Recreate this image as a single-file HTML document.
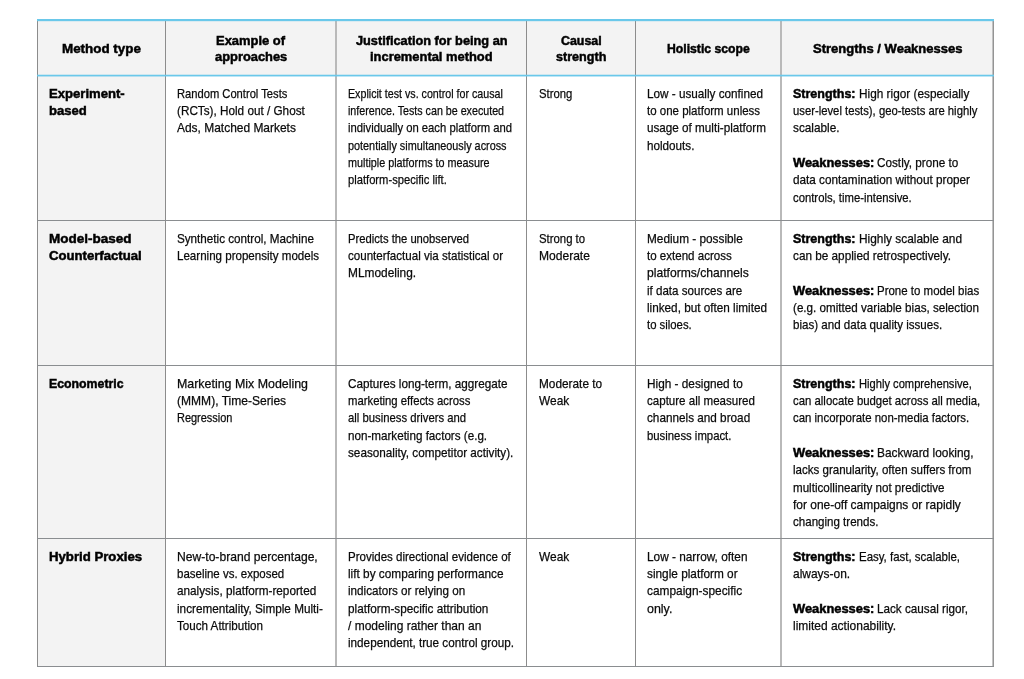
<!DOCTYPE html>
<html lang="en">
<head>
<meta charset="utf-8">
<title>Incrementality methods comparison</title>
<style>
html,body{margin:0;padding:0;background:#fff;}
body{width:1024px;height:679px;position:relative;overflow:hidden;font-family:"Liberation Sans",sans-serif;}
.bg{position:absolute;background:#f3f3f3;}
.v{position:absolute;width:1px;background:#8c8c8c;}
.v.soft{width:2px;background:#b9b9b9;}
.h{position:absolute;height:1px;background:#8a8d90;}
.hb{position:absolute;background:#6ac8ea;}
.c{position:absolute;}
.t,.b{display:block;position:absolute;white-space:nowrap;line-height:17.3px;height:17.3px;transform-origin:0 0;}
.t{font-size:13.0px;color:#0a0a0a;-webkit-text-stroke:0.25px #0a0a0a;}
.b{font-size:13.0px;font-weight:bold;color:#000;-webkit-text-stroke:0.5px #000;}
</style>
</head>
<body>

<div class="bg" style="left:37px;top:19px;width:957px;height:56px"></div>
<div class="bg" style="left:37px;top:75px;width:128px;height:592px"></div>
<div class="v" style="left:37px;top:20px;height:647px"></div>
<div class="v" style="left:165px;top:20px;height:647px"></div>
<div class="v soft" style="left:335px;top:20px;height:647px"></div>
<div class="v" style="left:526px;top:20px;height:647px"></div>
<div class="v" style="left:635px;top:20px;height:647px"></div>
<div class="v soft" style="left:780px;top:20px;height:647px"></div>
<div class="v" style="left:992px;top:20px;height:647px;background:#c2c2c2"></div>
<div class="v" style="left:993px;top:20px;height:647px;background:#949494"></div>
<div class="h" style="left:37px;top:220px;width:957px"></div>
<div class="h" style="left:37px;top:365px;width:957px"></div>
<div class="h" style="left:37px;top:538px;width:957px"></div>
<div class="h" style="left:37px;top:666px;width:957px"></div>
<div class="hb" style="left:37px;top:19px;width:957px;height:2px"></div>
<div class="hb" style="left:37px;top:74px;width:957px;height:1px;opacity:0.28"></div>
<div class="hb" style="left:37px;top:75px;width:957px;height:1px;opacity:1"></div>
<div class="hb" style="left:37px;top:76px;width:957px;height:1px;opacity:0.45"></div>
<div class="hb" style="left:37px;top:21px;width:957px;height:1px;opacity:.18"></div>
<div class="tbl" role="table" aria-label="Incrementality measurement methods">
<div role="row">
<div class="c" role="columnheader" style="left:37px;top:19px;width:128px;height:56px">
<b class="b" style="left:25.00px;top:21.05px;transform:scaleX(1.0304)">Method type</b>
</div>
<div class="c" role="columnheader" style="left:165px;top:19px;width:171px;height:56px">
<b class="b" style="left:51.02px;top:12.85px;transform:scaleX(0.9950)">Example of</b>
<b class="b" style="left:49.98px;top:28.85px;transform:scaleX(0.9902)">approaches</b>
</div>
<div class="c" role="columnheader" style="left:336px;top:19px;width:190px;height:56px">
<b class="b" style="left:19.54px;top:12.85px;transform:scaleX(0.9802)">Justification for being an</b>
<b class="b" style="left:33.52px;top:28.85px;transform:scaleX(0.9928)">incremental method</b>
</div>
<div class="c" role="columnheader" style="left:526px;top:19px;width:109px;height:56px">
<b class="b" style="left:35.00px;top:12.85px;transform:scaleX(0.9531)">Causal</b>
<b class="b" style="left:30.48px;top:28.85px;transform:scaleX(0.9687)">strength</b>
</div>
<div class="c" role="columnheader" style="left:635px;top:19px;width:146px;height:56px">
<b class="b" style="left:32.48px;top:21.05px;transform:scaleX(0.9381)">Holistic scope</b>
</div>
<div class="c" role="columnheader" style="left:781px;top:19px;width:212px;height:56px">
<b class="b" style="left:31.52px;top:21.05px;transform:scaleX(1.0012)">Strengths / Weaknesses</b>
</div>
</div>
<div role="row">
<div class="c" role="rowheader" style="left:37px;top:75px;width:128px;height:145px">
<b class="b" style="left:11.70px;top:9.85px;transform:scaleX(1.0075)">Experiment-</b>
<b class="b" style="left:11.70px;top:27.15px;transform:scaleX(1.0053)">based</b>
</div>
<div class="c" role="cell" style="left:165px;top:75px;width:171px;height:145px">
<span class="t" style="left:11.70px;top:9.85px;transform:scaleX(0.8594)">Random Control Tests</span>
<span class="t" style="left:11.70px;top:27.15px;transform:scaleX(0.9024)">(RCTs), Hold out / Ghost</span>
<span class="t" style="left:11.70px;top:44.45px;transform:scaleX(0.9192)">Ads, Matched Markets</span>
</div>
<div class="c" role="cell" style="left:336px;top:75px;width:190px;height:145px">
<span class="t" style="left:11.70px;top:9.85px;transform:scaleX(0.8214)">Explicit test vs. control for causal</span>
<span class="t" style="left:11.70px;top:27.15px;transform:scaleX(0.8221)">inference. Tests can be executed</span>
<span class="t" style="left:11.70px;top:44.45px;transform:scaleX(0.8659)">individually on each platform and</span>
<span class="t" style="left:11.70px;top:61.75px;transform:scaleX(0.8343)">potentially simultaneously across</span>
<span class="t" style="left:11.70px;top:79.05px;transform:scaleX(0.8303)">multiple platforms to measure</span>
<span class="t" style="left:11.70px;top:96.35px;transform:scaleX(0.8605)">platform-specific lift.</span>
</div>
<div class="c" role="cell" style="left:526px;top:75px;width:109px;height:145px">
<span class="t" style="left:12.50px;top:9.85px;transform:scaleX(0.8692)">Strong</span>
</div>
<div class="c" role="cell" style="left:635px;top:75px;width:146px;height:145px">
<span class="t" style="left:11.90px;top:9.85px;transform:scaleX(0.9022)">Low - usually confined</span>
<span class="t" style="left:11.90px;top:27.15px;transform:scaleX(0.8842)">to one platform unless</span>
<span class="t" style="left:11.90px;top:44.45px;transform:scaleX(0.8993)">usage of multi-platform</span>
<span class="t" style="left:11.90px;top:61.75px;transform:scaleX(0.8980)">holdouts.</span>
</div>
<div class="c" role="cell" style="left:781px;top:75px;width:212px;height:145px">
<b class="b" style="left:11.60px;top:9.85px;transform:scaleX(0.9619)">Strengths:</b>
<span class="t" style="left:77.50px;top:9.85px;transform:scaleX(0.9094)">High rigor (especially</span>
<span class="t" style="left:11.60px;top:27.15px;transform:scaleX(0.8677)">user-level tests), geo-tests are highly</span>
<span class="t" style="left:11.60px;top:44.45px;transform:scaleX(0.9061)">scalable.</span>
<b class="b" style="left:11.60px;top:79.05px;transform:scaleX(0.9908)">Weaknesses:</b>
<span class="t" style="left:96.20px;top:79.05px;transform:scaleX(0.9027)">Costly, prone to</span>
<span class="t" style="left:11.60px;top:96.35px;transform:scaleX(0.9033)">data contamination without proper</span>
<span class="t" style="left:11.60px;top:113.65px;transform:scaleX(0.8695)">controls, time-intensive.</span>
</div>
</div>
<div role="row">
<div class="c" role="rowheader" style="left:37px;top:220px;width:128px;height:145px">
<b class="b" style="left:11.70px;top:9.85px;transform:scaleX(1.0383)">Model-based</b>
<b class="b" style="left:11.70px;top:27.15px;transform:scaleX(1.0104)">Counterfactual</b>
</div>
<div class="c" role="cell" style="left:165px;top:220px;width:171px;height:145px">
<span class="t" style="left:11.70px;top:9.85px;transform:scaleX(0.8978)">Synthetic control, Machine</span>
<span class="t" style="left:11.70px;top:27.15px;transform:scaleX(0.8892)">Learning propensity models</span>
</div>
<div class="c" role="cell" style="left:336px;top:220px;width:190px;height:145px">
<span class="t" style="left:11.70px;top:9.85px;transform:scaleX(0.8633)">Predicts the unobserved</span>
<span class="t" style="left:11.70px;top:27.15px;transform:scaleX(0.8910)">counterfactual via statistical or</span>
<span class="t" style="left:11.70px;top:44.45px;transform:scaleX(0.9145)">MLmodeling.</span>
</div>
<div class="c" role="cell" style="left:526px;top:220px;width:109px;height:145px">
<span class="t" style="left:12.50px;top:9.85px;transform:scaleX(0.8738)">Strong to</span>
<span class="t" style="left:12.50px;top:27.15px;transform:scaleX(0.9273)">Moderate</span>
</div>
<div class="c" role="cell" style="left:635px;top:220px;width:146px;height:145px">
<span class="t" style="left:11.90px;top:9.85px;transform:scaleX(0.9078)">Medium - possible</span>
<span class="t" style="left:11.90px;top:27.15px;transform:scaleX(0.8881)">to extend across</span>
<span class="t" style="left:11.90px;top:44.45px;transform:scaleX(0.9321)">platforms/channels</span>
<span class="t" style="left:11.90px;top:61.75px;transform:scaleX(0.8900)">if data sources are</span>
<span class="t" style="left:11.90px;top:79.05px;transform:scaleX(0.9021)">linked, but often limited</span>
<span class="t" style="left:11.90px;top:96.35px;transform:scaleX(0.8713)">to siloes.</span>
</div>
<div class="c" role="cell" style="left:781px;top:220px;width:212px;height:145px">
<b class="b" style="left:11.60px;top:9.85px;transform:scaleX(0.9619)">Strengths:</b>
<span class="t" style="left:77.50px;top:9.85px;transform:scaleX(0.9140)">Highly scalable and</span>
<span class="t" style="left:11.60px;top:27.15px;transform:scaleX(0.9047)">can be applied retrospectively.</span>
<b class="b" style="left:11.60px;top:61.75px;transform:scaleX(0.9908)">Weaknesses:</b>
<span class="t" style="left:96.20px;top:61.75px;transform:scaleX(0.8833)">Prone to model bias</span>
<span class="t" style="left:11.60px;top:79.05px;transform:scaleX(0.8967)">(e.g. omitted variable bias, selection</span>
<span class="t" style="left:11.60px;top:96.35px;transform:scaleX(0.8899)">bias) and data quality issues.</span>
</div>
</div>
<div role="row">
<div class="c" role="rowheader" style="left:37px;top:365px;width:128px;height:173px">
<b class="b" style="left:11.70px;top:9.85px;transform:scaleX(0.9467)">Econometric</b>
</div>
<div class="c" role="cell" style="left:165px;top:365px;width:171px;height:173px">
<span class="t" style="left:11.70px;top:9.85px;transform:scaleX(0.9544)">Marketing Mix Modeling</span>
<span class="t" style="left:11.70px;top:27.15px;transform:scaleX(0.9271)">(MMM), Time-Series</span>
<span class="t" style="left:11.70px;top:44.45px;transform:scaleX(0.8431)">Regression</span>
</div>
<div class="c" role="cell" style="left:336px;top:365px;width:190px;height:173px">
<span class="t" style="left:11.70px;top:9.85px;transform:scaleX(0.9009)">Captures long-term, aggregate</span>
<span class="t" style="left:11.70px;top:27.15px;transform:scaleX(0.8700)">marketing effects across</span>
<span class="t" style="left:11.70px;top:44.45px;transform:scaleX(0.8694)">all business drivers and</span>
<span class="t" style="left:11.70px;top:61.75px;transform:scaleX(0.8954)">non-marketing factors (e.g.</span>
<span class="t" style="left:11.70px;top:79.05px;transform:scaleX(0.9022)">seasonality, competitor activity).</span>
</div>
<div class="c" role="cell" style="left:526px;top:365px;width:109px;height:173px">
<span class="t" style="left:12.50px;top:9.85px;transform:scaleX(0.9099)">Moderate to</span>
<span class="t" style="left:12.50px;top:27.15px;transform:scaleX(0.9154)">Weak</span>
</div>
<div class="c" role="cell" style="left:635px;top:365px;width:146px;height:173px">
<span class="t" style="left:11.90px;top:9.85px;transform:scaleX(0.9078)">High - designed to</span>
<span class="t" style="left:11.90px;top:27.15px;transform:scaleX(0.8886)">capture all measured</span>
<span class="t" style="left:11.90px;top:44.45px;transform:scaleX(0.9033)">channels and broad</span>
<span class="t" style="left:11.90px;top:61.75px;transform:scaleX(0.8716)">business impact.</span>
</div>
<div class="c" role="cell" style="left:781px;top:365px;width:212px;height:173px">
<b class="b" style="left:11.60px;top:9.85px;transform:scaleX(0.9619)">Strengths:</b>
<span class="t" style="left:77.50px;top:9.85px;transform:scaleX(0.8574)">Highly comprehensive,</span>
<span class="t" style="left:11.60px;top:27.15px;transform:scaleX(0.8752)">can allocate budget across all media,</span>
<span class="t" style="left:11.60px;top:44.45px;transform:scaleX(0.8771)">can incorporate non-media factors.</span>
<b class="b" style="left:11.60px;top:79.05px;transform:scaleX(0.9908)">Weaknesses:</b>
<span class="t" style="left:96.20px;top:79.05px;transform:scaleX(0.9148)">Backward looking,</span>
<span class="t" style="left:11.60px;top:96.35px;transform:scaleX(0.8873)">lacks granularity, often suffers from</span>
<span class="t" style="left:11.60px;top:113.65px;transform:scaleX(0.8923)">multicollinearity not predictive</span>
<span class="t" style="left:11.60px;top:130.95px;transform:scaleX(0.9191)">for one-off campaigns or rapidly</span>
<span class="t" style="left:11.60px;top:148.25px;transform:scaleX(0.8886)">changing trends.</span>
</div>
</div>
<div role="row">
<div class="c" role="rowheader" style="left:37px;top:538px;width:128px;height:128px">
<b class="b" style="left:11.70px;top:9.85px;transform:scaleX(1.0146)">Hybrid Proxies</b>
</div>
<div class="c" role="cell" style="left:165px;top:538px;width:171px;height:128px">
<span class="t" style="left:11.70px;top:9.85px;transform:scaleX(0.9318)">New-to-brand percentage,</span>
<span class="t" style="left:11.70px;top:27.15px;transform:scaleX(0.8826)">baseline vs. exposed</span>
<span class="t" style="left:11.70px;top:44.45px;transform:scaleX(0.9046)">analysis, platform-reported</span>
<span class="t" style="left:11.70px;top:61.75px;transform:scaleX(0.9026)">incrementality, Simple Multi-</span>
<span class="t" style="left:11.70px;top:79.05px;transform:scaleX(0.8945)">Touch Attribution</span>
</div>
<div class="c" role="cell" style="left:336px;top:538px;width:190px;height:128px">
<span class="t" style="left:11.70px;top:9.85px;transform:scaleX(0.8867)">Provides directional evidence of</span>
<span class="t" style="left:11.70px;top:27.15px;transform:scaleX(0.9080)">lift by comparing performance</span>
<span class="t" style="left:11.70px;top:44.45px;transform:scaleX(0.8966)">indicators or relying on</span>
<span class="t" style="left:11.70px;top:61.75px;transform:scaleX(0.9034)">platform-specific attribution</span>
<span class="t" style="left:11.70px;top:79.05px;transform:scaleX(0.9224)">/ modeling rather than an</span>
<span class="t" style="left:11.70px;top:96.35px;transform:scaleX(0.9004)">independent, true control group.</span>
</div>
<div class="c" role="cell" style="left:526px;top:538px;width:109px;height:128px">
<span class="t" style="left:12.50px;top:9.85px;transform:scaleX(0.9154)">Weak</span>
</div>
<div class="c" role="cell" style="left:635px;top:538px;width:146px;height:128px">
<span class="t" style="left:11.90px;top:9.85px;transform:scaleX(0.9086)">Low - narrow, often</span>
<span class="t" style="left:11.90px;top:27.15px;transform:scaleX(0.9089)">single platform or</span>
<span class="t" style="left:11.90px;top:44.45px;transform:scaleX(0.9143)">campaign-specific</span>
<span class="t" style="left:11.90px;top:61.75px;transform:scaleX(0.9569)">only.</span>
</div>
<div class="c" role="cell" style="left:781px;top:538px;width:212px;height:128px">
<b class="b" style="left:11.60px;top:9.85px;transform:scaleX(0.9619)">Strengths:</b>
<span class="t" style="left:77.50px;top:9.85px;transform:scaleX(0.8812)">Easy, fast, scalable,</span>
<span class="t" style="left:11.60px;top:27.15px;transform:scaleX(0.9196)">always-on.</span>
<b class="b" style="left:11.60px;top:61.75px;transform:scaleX(0.9908)">Weaknesses:</b>
<span class="t" style="left:96.20px;top:61.75px;transform:scaleX(0.9001)">Lack causal rigor,</span>
<span class="t" style="left:11.60px;top:79.05px;transform:scaleX(0.9216)">limited actionability.</span>
</div>
</div>
</div>
</body>
</html>
